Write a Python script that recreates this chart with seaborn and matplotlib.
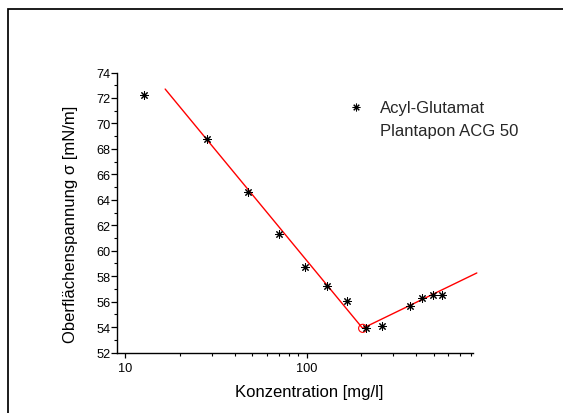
import matplotlib
matplotlib.use("Agg")
import matplotlib.pyplot as plt
from matplotlib.lines import Line2D
from matplotlib.ticker import FixedLocator, MultipleLocator, NullFormatter
import seaborn as sns
import pandas as pd

# --- data ---
conc = [12.7, 28.3, 47.6, 70.0, 97.8, 129.4, 167.0, 210.6, 259.6, 370.0, 430.6, 493.0, 552.0]
sigma = [72.26, 68.78, 64.59, 61.29, 58.75, 57.25, 56.02, 53.93, 54.11, 55.68, 56.26, 56.55, 56.55]
fit_x = [16.6, 203.0, 863.0]
fit_y = [72.70, 53.90, 58.25]
cmc_x = [203.0]
cmc_y = [53.90]
series_label = "Acyl-Glutamat"
series_label2 = "Plantapon ACG 50"
x_label = "Konzentration [mg/l]"
y_label = "Oberflächenspannung σ [mN/m]"
x_ticks = [10, 100]
x_ticklabels = ["10", "100"]
y_ticks = list(range(52, 75, 2))

sns.set_theme(style="white")
plt.rcParams["font.family"] = ["Liberation Sans", "DejaVu Sans"]
plt.rcParams["axes.unicode_minus"] = False

df = pd.DataFrame({"c": conc, "s": sigma})
df_fit = pd.DataFrame({"c": fit_x, "s": fit_y})
df_cmc = pd.DataFrame({"c": cmc_x, "s": cmc_y})

fig = plt.figure(figsize=(5.63, 4.14), dpi=100)
W, H = 563, 414
ax = fig.add_axes([117.3 / W, 1 - 353.5 / H, (472.5 - 117.3) / W, (353.5 - 73.5) / H])
ax.set_facecolor("white")

ax.set_xscale("log")

sns.lineplot(data=df_fit, x="c", y="s", ax=ax, color="red", linewidth=1.0,
             sort=False, estimator=None, clip_on=False, zorder=2)
sns.scatterplot(data=df_cmc, x="c", y="s", ax=ax, marker="o", s=34,
                facecolor="none", edgecolor="red", linewidth=0.8, zorder=3)
sns.scatterplot(data=df, x="c", y="s", ax=ax, marker=(8, 2, 0), s=30,
                color="black", edgecolor="black", linewidth=0.75, zorder=4)

ax.set_xlim(9.05, 817)
ax.set_ylim(52, 74)

# spines
for side in ["top", "right"]:
    ax.spines[side].set_visible(False)
for side in ["left", "bottom"]:
    ax.spines[side].set_color("black")
    ax.spines[side].set_linewidth(1.0)

# ticks
ax.xaxis.set_major_locator(FixedLocator(x_ticks))
ax.set_xticklabels(x_ticklabels)
ax.xaxis.set_minor_locator(FixedLocator([20, 30, 40, 50, 60, 70, 80, 90,
                                         200, 300, 400, 500, 600, 700, 800]))
ax.xaxis.set_minor_formatter(NullFormatter())
ax.yaxis.set_major_locator(FixedLocator(y_ticks))
ax.yaxis.set_minor_locator(MultipleLocator(1))

ax.tick_params(axis="x", which="major", direction="out", length=3.5, width=0.9,
               color="black", labelsize=9.2, pad=3.0, bottom=True)
ax.tick_params(axis="x", which="minor", direction="out", length=2.0, width=0.8,
               color="black", bottom=True)
ax.tick_params(axis="y", which="major", direction="out", length=4.3, width=0.9,
               color="black", labelsize=9.2, pad=0.6, left=True)
ax.tick_params(axis="y", which="minor", direction="out", length=2.2, width=0.8,
               color="black", left=True)
for lab in ax.get_xticklabels() + ax.get_yticklabels():
    lab.set_color("black")

ax.set_xlabel(x_label, fontsize=12, color="black")
ax.set_ylabel(y_label, fontsize=12, color="black")
ax.xaxis.set_label_coords(0.5405, -0.114)
ax.yaxis.set_label_coords(-0.111, 0.4625)

# legend
h1 = Line2D([], [], linestyle="none", marker=(8, 2, 0), markersize=5.5,
            color="black", markeredgewidth=0.75)
h2 = Line2D([], [], linestyle="none", marker=None)
ax.legend([h1, h2], [series_label, series_label2], loc="upper left",
          bbox_to_anchor=(347.2 / W, 1 - 101.5 / H), bbox_transform=fig.transFigure,
          frameon=False, fontsize=12, handlelength=1.0, handletextpad=0.94,
          borderpad=0, borderaxespad=0, labelspacing=0.44)

# outer frame of the page
fig.add_artist(Line2D([7.8 / W, 7.8 / W, 1.0], [0.0, 1 - 10 / H, 1 - 10 / H],
                      transform=fig.transFigure, color="black", linewidth=1.25,
                      solid_joinstyle="miter"))

fig.savefig("out.png", dpi=100, facecolor="white")
